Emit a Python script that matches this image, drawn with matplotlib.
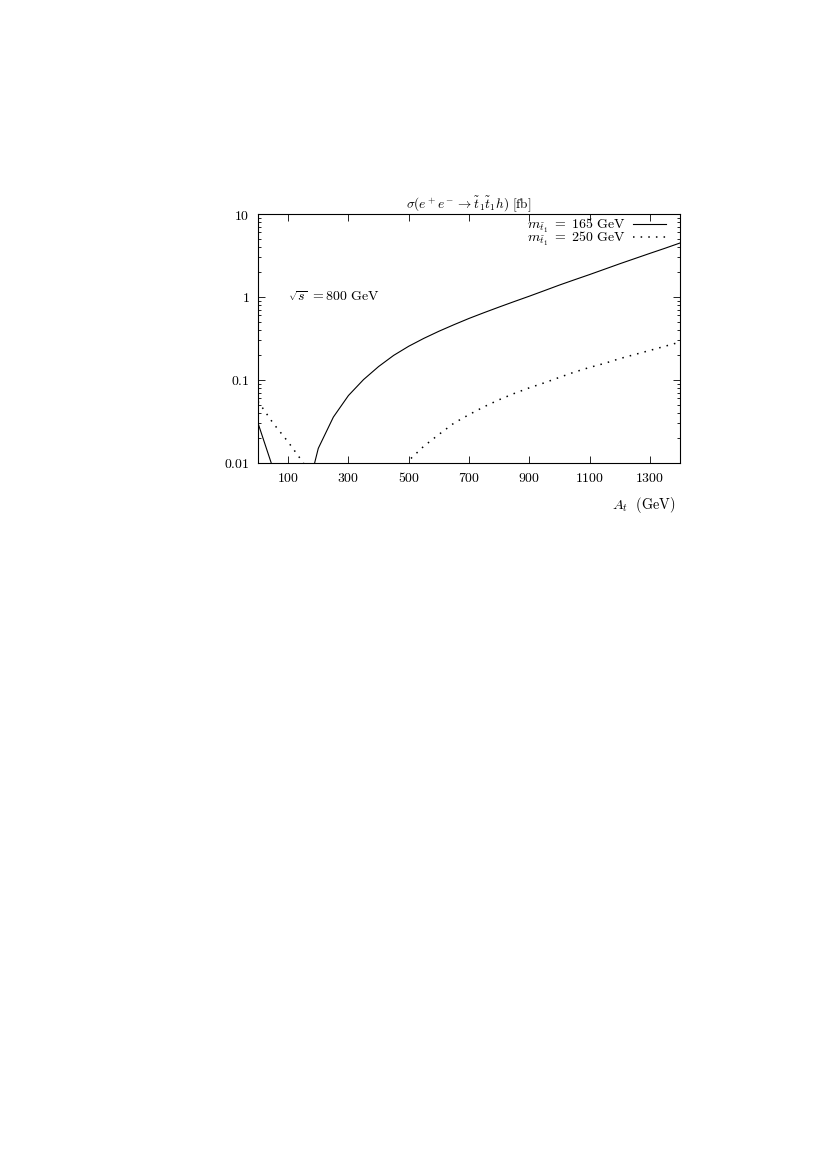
import matplotlib
matplotlib.use("Agg")
import matplotlib.pyplot as plt
import numpy as np
from matplotlib.ticker import FixedLocator, FixedFormatter, LogLocator, NullFormatter

plt.rcParams['mathtext.fontset'] = 'cm'
plt.rcParams['font.family'] = 'serif'
plt.rcParams['font.serif'] = ['DejaVu Serif']

# m_stop1 = 165 GeV (solid)
at_165 = [0, 50, 150, 200, 250, 300, 350, 400, 450, 500, 550, 600, 650, 700,
          750, 800, 850, 900, 950, 1000, 1050, 1100, 1150, 1200, 1250, 1300,
          1350, 1400]
sig_165 = [0.030, 0.0085, 0.0028, 0.0149, 0.0355, 0.0646, 0.1005, 0.1445,
           0.197, 0.254, 0.316, 0.385, 0.462, 0.55, 0.646, 0.755, 0.879, 1.02,
           1.19, 1.39, 1.61, 1.86, 2.16, 2.51, 2.90, 3.35, 3.86, 4.47]

# m_stop1 = 250 GeV (dotted)
at_250 = [0, 50, 100, 150, 200, 450, 500, 550, 600, 650, 700, 750, 800, 850,
          900, 950, 1000, 1050, 1100, 1150, 1200, 1250, 1300, 1350, 1400]
sig_250 = [0.055, 0.030, 0.0178, 0.0100, 0.004, 0.004, 0.0106, 0.0158,
           0.0219, 0.030, 0.038, 0.0473, 0.0575, 0.0684, 0.080, 0.092, 0.107,
           0.124, 0.141, 0.158, 0.180, 0.202, 0.226, 0.254, 0.285]

xticks = [100, 300, 500, 700, 900, 1100, 1300]
yticks = [0.01, 0.1, 1, 10]
ylabels = ['0.01', '0.1', '1', '10']

fig = plt.figure(figsize=(8.17, 11.55), dpi=100)
ax = fig.add_axes([0.3158, 0.5994, 0.5165, 0.2153])

ax.plot(at_165, sig_165, color='black', lw=0.8,
        label=r'$m_{\tilde t_1}\ \mathrm{=\ 165\ GeV}$')
ax.plot(at_250, sig_250, color='black', lw=1.1, linestyle=(0, (1, 4)),
        dash_capstyle='butt', label=r'$m_{\tilde t_1}\ \mathrm{=\ 250\ GeV}$')

ax.set_yscale('log')
ax.set_xlim(0, 1400)
ax.set_ylim(0.01, 10)

ax.xaxis.set_major_locator(FixedLocator(xticks))
ax.set_xticklabels(['$%d$' % t for t in xticks])
ax.yaxis.set_major_locator(FixedLocator(yticks))
ax.yaxis.set_major_formatter(FixedFormatter(['$%s$' % s for s in ylabels]))
ax.yaxis.set_minor_locator(LogLocator(base=10, subs=np.arange(2, 10)))
ax.yaxis.set_minor_formatter(NullFormatter())

ax.tick_params(which='both', direction='in', top=True, right=True,
               labelsize=10, width=0.6, pad=6)
ax.tick_params(which='major', length=5)
ax.tick_params(which='minor', length=2.5)
for s in ax.spines.values():
    s.set_linewidth(0.8)

ax.set_title(r'$\sigma(e^+e^- \rightarrow \tilde t_1 \tilde t_1 h)\ \mathrm{[fb]}$',
             fontsize=9.6, pad=4)
ax.set_xlabel(r'$A_t\ \ \mathrm{(GeV)}$', fontsize=10.3, loc='right', labelpad=6)
ax.xaxis.set_label_coords(0.989, -0.13)

ax.text(100, 1, r'$\sqrt{s}\ \mathrm{=800\ GeV}$', fontsize=10,
        ha='left', va='center')

ax.legend(loc='upper right', bbox_to_anchor=(0.968, 0.99),
          markerfirst=False, frameon=False, fontsize=10,
          handlelength=2.4, handletextpad=0.5, labelspacing=-0.3,
          borderaxespad=0, borderpad=0)

fig.savefig('out.png', dpi=100)
